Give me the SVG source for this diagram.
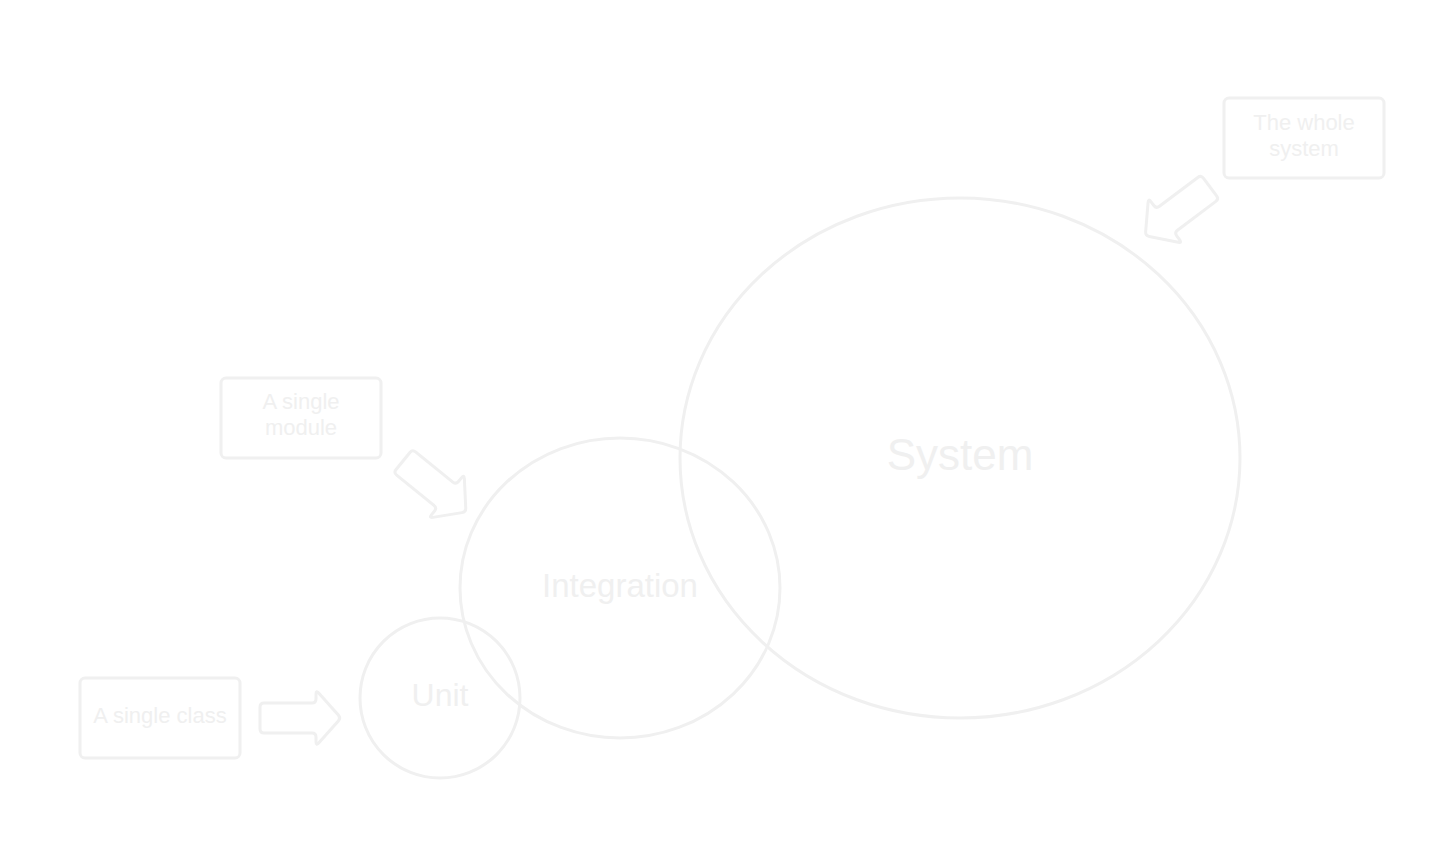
<svg xmlns="http://www.w3.org/2000/svg" width="1450" height="866" viewBox="0 0 1450 866">
<defs>
<style>
.shape{fill:none;stroke:#f0f0f0;stroke-width:3;stroke-linejoin:round}
.lbl{fill:#f0f0f0;font-family:"Liberation Sans",Arial,sans-serif;text-anchor:middle}
.small{font-size:22px}
</style>
<path id="blockArrow" d="M0,-11 Q0,-15 4,-15 L52,-15 Q56,-15 56,-19 L56,-24 Q56,-28 58.7,-25 L78.3,-3 Q81,0 78.3,3 L58.7,25 Q56,28 56,24 L56,19 Q56,15 52,15 L4,15 Q0,15 0,11 Z"/>
</defs>
<rect width="1450" height="866" fill="#ffffff"/>
<g id="system">
<ellipse class="shape" cx="960" cy="458" rx="280" ry="260"/>
<text class="lbl" x="960" y="470" font-size="44">System</text>
</g>
<g id="integration">
<ellipse class="shape" cx="620" cy="588" rx="160" ry="150"/>
<text class="lbl" x="620" y="597" font-size="33">Integration</text>
</g>
<g id="unit">
<circle class="shape" cx="440" cy="698" r="80"/>
<text class="lbl" x="440" y="706" font-size="32">Unit</text>
</g>
<g id="class-note">
<rect class="shape" x="80" y="678" width="160" height="80" rx="5"/>
<text class="lbl small" x="160" y="723">A single class</text>
</g>
<g id="module-note">
<rect class="shape" x="221" y="378" width="160" height="80" rx="5"/>
<text class="lbl small" x="301" y="409">A single</text>
<text class="lbl small" x="301" y="435">module</text>
</g>
<g id="system-note">
<rect class="shape" x="1224" y="98" width="160" height="80" rx="5"/>
<text class="lbl small" x="1304" y="130">The whole</text>
<text class="lbl small" x="1304" y="156">system</text>
</g>
<g id="connectors">
<use href="#blockArrow" class="shape" transform="translate(260,718)"/>
<use href="#blockArrow" class="shape" transform="translate(403,461) rotate(39)"/>
<use href="#blockArrow" class="shape" transform="translate(1210,187) rotate(143)"/>
</g>
</svg>
